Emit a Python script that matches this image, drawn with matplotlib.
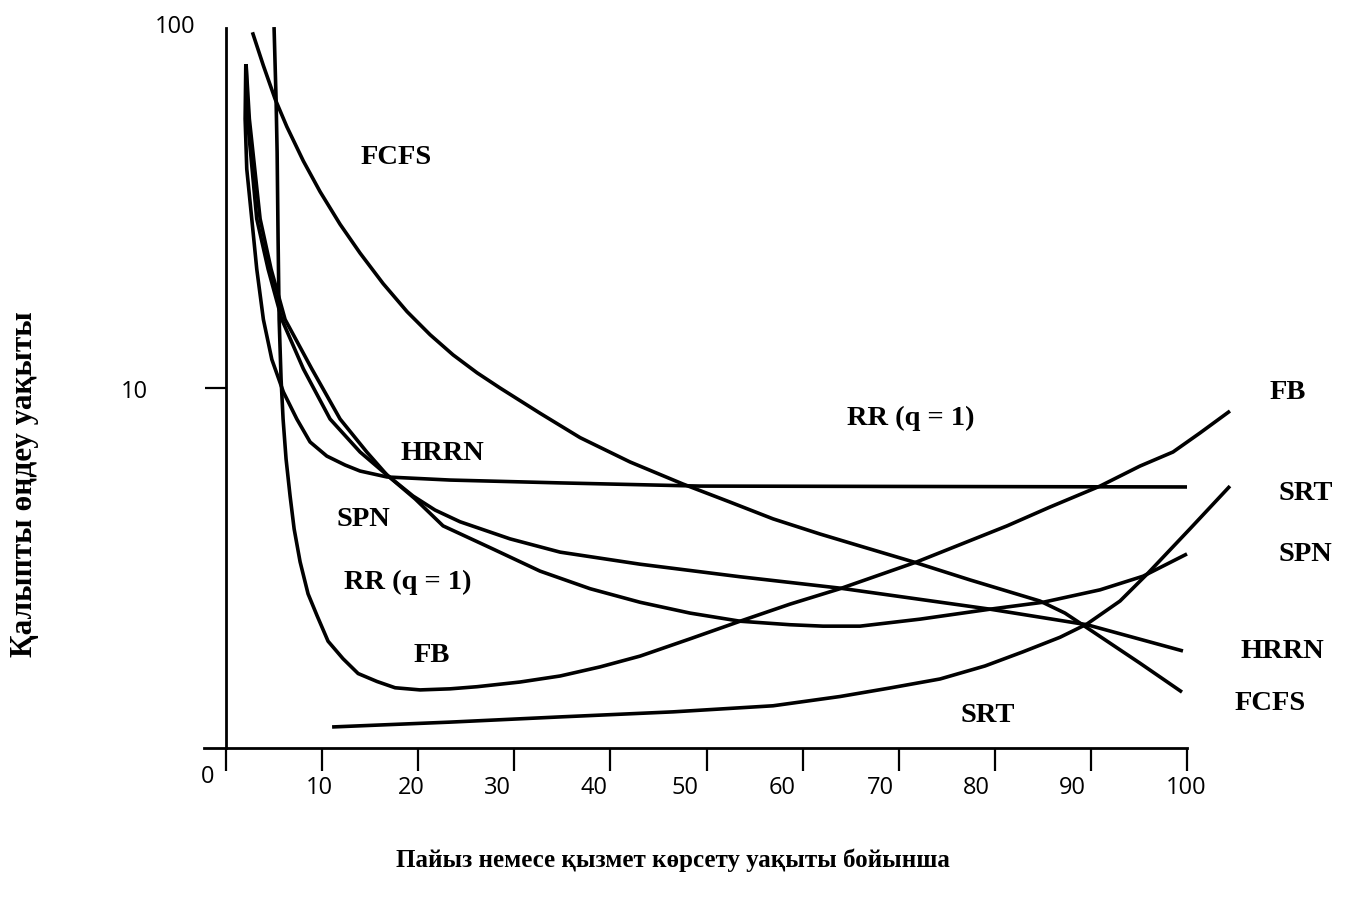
"""
Normalized turnaround time vs. percentile of service time,
one curve per scheduling policy (log scale on y).
"""

import matplotlib

matplotlib.use("Agg")
import matplotlib.pyplot as plt
from matplotlib.ticker import NullLocator

# --- data (x = percentile, y = normalized time) ---
fcfs_x = [2.74, 3.88, 5.10, 6.32, 8.04, 9.78, 11.86, 13.94, 16.34, 18.83, 21.23, 23.62, 26.12,
          28.51, 32.67, 36.84, 42.04, 47.55, 52.45, 56.92, 61.81, 65.97, 71.49, 77.42, 84.70,
          87.30, 89.91, 95.11, 99.48]
fcfs_y = [97.3, 78.6, 63.5, 53.2, 42.7, 35.1, 28.5, 23.7, 19.5, 16.3, 14.06, 12.36, 11.02,
          10.0, 8.51, 7.28, 6.23, 5.41, 4.82, 4.33, 3.93, 3.64, 3.29, 2.93, 2.56,
          2.37, 2.13, 1.72, 1.43]

rr_x = [2.05, 1.98, 2.15, 2.67, 3.19, 3.88, 4.76, 5.96, 7.36, 8.74, 10.48, 12.38, 13.94, 16.75,
        23.31, 34.76, 49.32, 100.0]
rr_y = [79.4, 55.9, 40.6, 29.5, 21.4, 15.5, 12.0, 9.75, 8.20, 7.08, 6.47, 6.11, 5.88, 5.66,
        5.55, 5.45, 5.34, 5.31]

hrrn_x = [2.08, 2.42, 3.54, 4.68, 6.14, 8.92, 11.86, 14.64, 16.75, 19.46, 21.75, 24.35, 29.55,
          34.76, 43.08, 53.49, 63.89, 79.50, 89.59, 99.58]
hrrn_y = [79.4, 55.9, 29.5, 21.4, 15.5, 11.3, 8.2, 6.64, 5.73, 5.01, 4.58, 4.25, 3.81,
          3.50, 3.24, 2.99, 2.78, 2.43, 2.20, 1.86]

spn_x = [2.08, 2.22, 3.19, 4.37, 5.80, 8.04, 10.82, 13.94, 16.75, 19.67, 22.58, 27.78, 32.67,
         37.88, 43.08, 48.28, 53.49, 58.69, 62.12, 65.97, 72.22, 79.50, 85.02, 90.95, 95.42, 100.0]
spn_y = [79.4, 55.9, 29.5, 21.4, 15.5, 11.3, 8.2, 6.64, 5.73, 4.92, 4.14, 3.57, 3.10,
         2.77, 2.54, 2.37, 2.25, 2.20, 2.18, 2.18, 2.28, 2.43, 2.54, 2.75, 3.00, 3.46]

fb_x = [4.99, 5.20, 5.31, 5.41, 5.52, 5.72, 5.93, 6.24, 6.66, 7.08, 7.70, 8.53, 9.47, 10.61,
        12.17, 13.74, 15.71, 17.59, 20.19, 23.31, 26.12, 30.59, 34.76, 38.92, 43.08, 48.28,
        53.49, 58.69, 63.89, 71.90, 81.27, 85.74, 90.95, 95.11, 98.54, 101.35, 104.47]
fb_y = [100.6, 63.5, 45.2, 25.9, 15.5, 10.6, 8.2, 6.35, 5.01, 4.06, 3.29, 2.68, 2.33, 1.98,
        1.77, 1.61, 1.53, 1.47, 1.45, 1.46, 1.48, 1.525, 1.585, 1.68, 1.80, 2.01,
        2.25, 2.51, 2.77, 3.29, 4.14, 4.67, 5.34, 6.07, 6.64, 7.50, 8.63]

srt_x = [11.03, 23.3, 34.76, 46.51, 56.92, 63.89, 69.09, 74.30, 78.98, 82.93, 86.78, 89.59,
         93.03, 95.84, 100.3, 104.47]
srt_y = [1.144, 1.18, 1.22, 1.26, 1.31, 1.39, 1.468, 1.555, 1.69, 1.85, 2.03, 2.21,
         2.56, 3.04, 4.06, 5.34]

x_ticks = [0, 10, 20, 30, 40, 50, 60, 70, 80, 90, 100]
x_tick_labels = ["10", "20", "30", "40", "50", "60", "70", "80", "90", "100"]
x_tick_label_pos = [9.7, 19.25, 28.2, 38.3, 47.8, 57.9, 68.1, 78.1, 88.1, 99.9]

curve_labels = [
    ("FCFS", 17.7, 44.1), ("HRRN", 22.5, 6.64), ("SPN", 14.3, 4.33),
    ("RR (q = 1)", 18.9, 2.91), ("FB", 21.4, 1.82), ("RR (q = 1)", 71.3, 8.31),
    ("SRT", 79.3, 1.235), ("FB", 110.5, 9.75), ("SRT", 112.4, 5.14),
    ("SPN", 112.3, 3.46), ("HRRN", 109.9, 1.86), ("FCFS", 108.7, 1.34),
]

x_title = "Пайыз немесе қызмет көрсету уақыты бойынша"
y_title = "Қалыпты өңдеу уақыты"

SERIF = ["Liberation Serif", "DejaVu Serif"]
SANS = ["Open Sans", "DejaVu Sans"]

W, H = 1347, 903
fig = plt.figure(figsize=(W / 100, H / 100), dpi=100)
ax = fig.add_axes([204 / W, 1 - 749 / H, (1187 - 204) / W, (749 - 29) / H])
ax.set_xlim(-2.3, 100)
ax.set_yscale("log")
ax.set_ylim(1, 100)

for xs, ys in [(fcfs_x, fcfs_y), (rr_x, rr_y), (hrrn_x, hrrn_y),
               (spn_x, spn_y), (fb_x, fb_y), (srt_x, srt_y)]:
    ax.plot(xs, ys, color="black", lw=2.6, clip_on=False,
            solid_capstyle="butt", solid_joinstyle="round")

# axes drawn like the hand-made original
for side in ["top", "right"]:
    ax.spines[side].set_visible(False)
ax.spines["left"].set_position(("data", 0))
ax.spines["left"].set_linewidth(2)
ax.spines["bottom"].set_linewidth(2)

ax.set_yticks([10])
ax.set_yticklabels(["10"], family=SANS, fontsize=17)
ax.yaxis.set_minor_locator(NullLocator())
ax.tick_params(axis="y", length=15, width=1.6, pad=41)

ax.set_xticks(x_ticks)
ax.set_xticklabels([""] * len(x_ticks))
ax.tick_params(axis="x", length=16.5, width=1.6)

xt = ax.get_xaxis_transform()
ax.text(-1.9, -0.039, "0", transform=xt, family=SANS, fontsize=17, ha="center", va="center")
for lab, pos in zip(x_tick_labels, x_tick_label_pos):
    ax.text(pos, -0.054, lab, transform=xt, family=SANS, fontsize=17, ha="center", va="center")
ax.text(-3.2, 101, "100", family=SANS, fontsize=17, ha="right", va="center", clip_on=False)

for text, lx, ly in curve_labels:
    ax.text(lx, ly, text, family=SERIF, fontsize=20.5, fontweight="bold",
            ha="center", va="center", clip_on=False)

fig.text(673 / W, 1 - 860 / H, x_title, family=SERIF, fontsize=18, fontweight="bold",
         ha="center", va="center")
fig.text(25 / W, 1 - 484 / H, y_title, family=SERIF, fontsize=22.5, fontweight="bold",
         ha="center", va="center", rotation=90)

fig.savefig("out.png", dpi=100)
